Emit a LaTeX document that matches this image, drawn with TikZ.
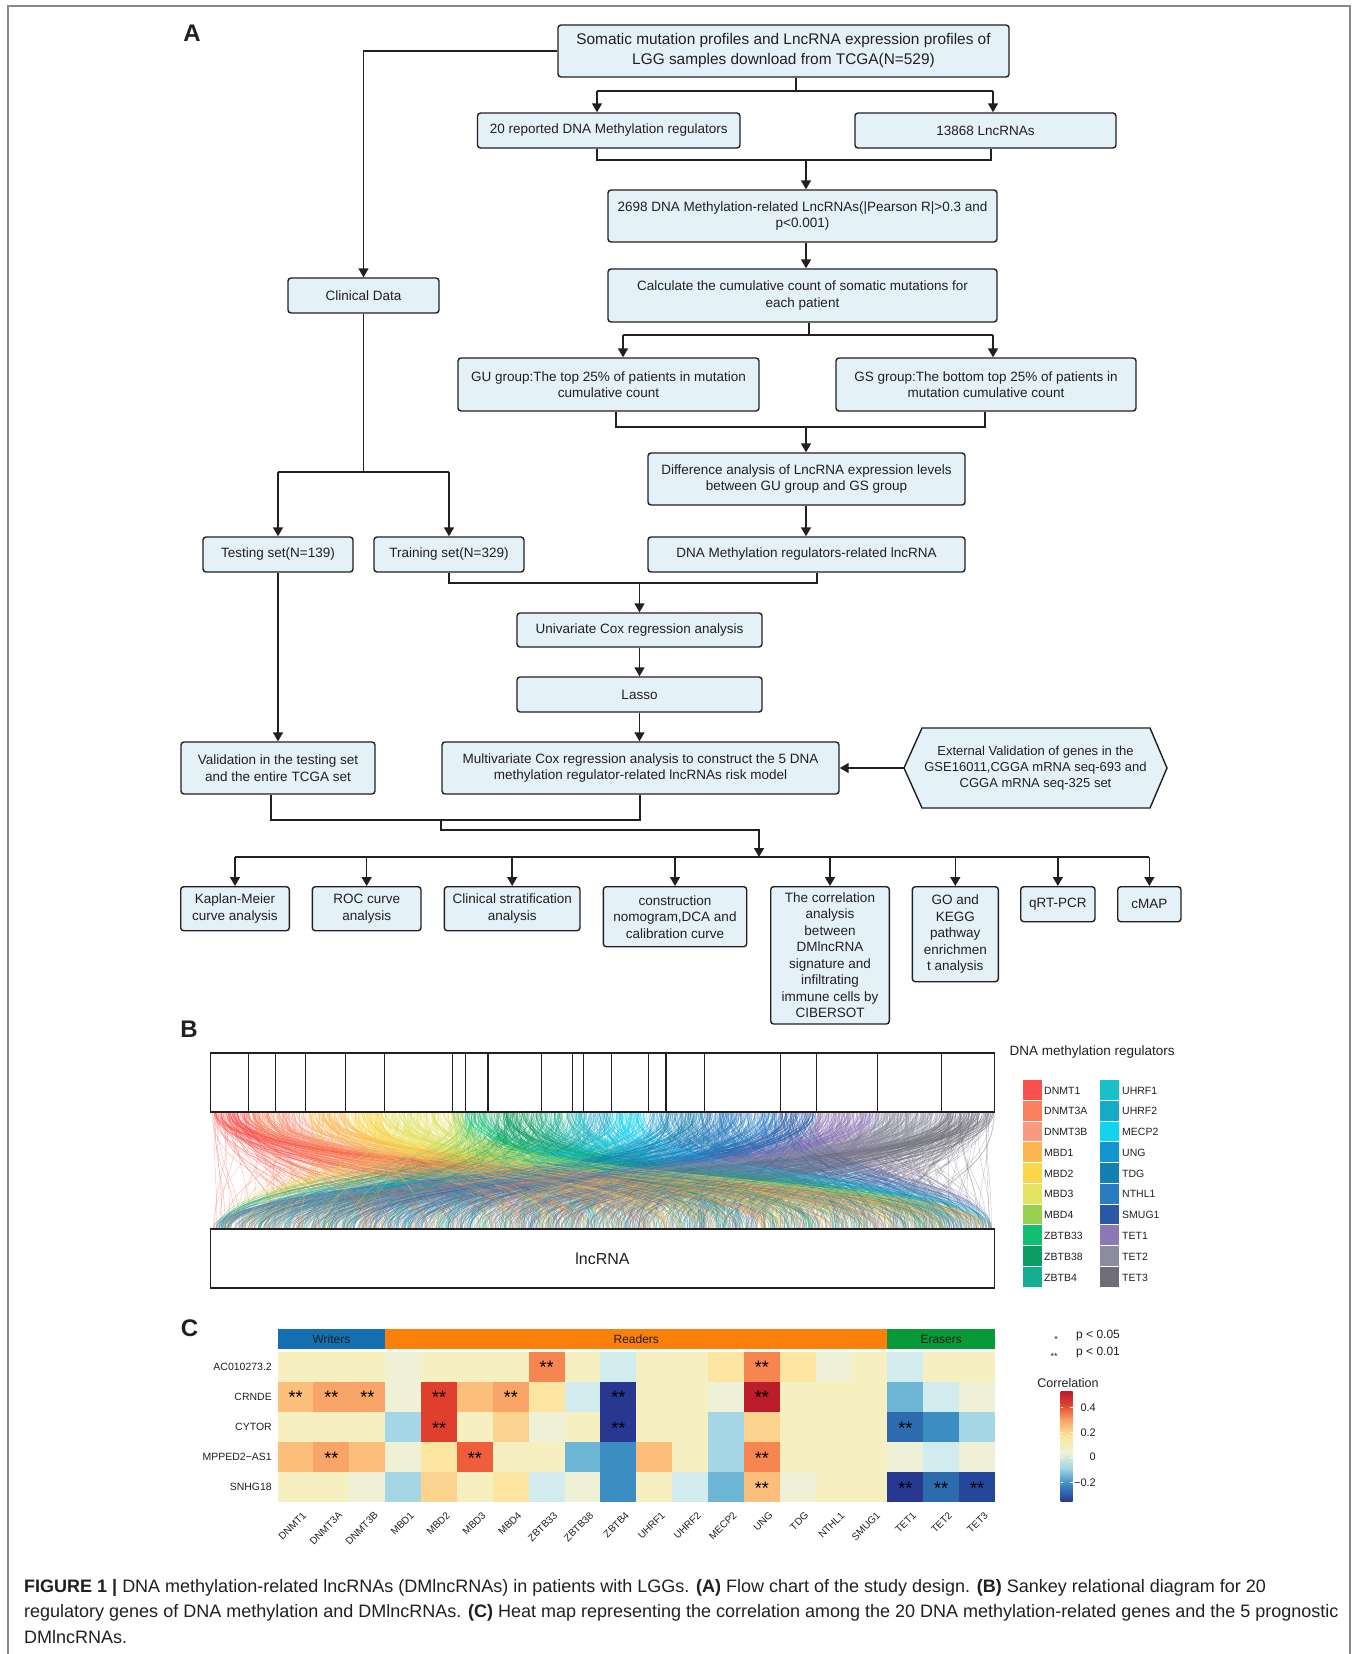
\documentclass[tikz,border=0pt]{standalone}
\usepackage{fontspec}
\setmainfont{Liberation Sans}
\setsansfont{Liberation Sans}
\usetikzlibrary{arrows.meta}
\newcommand{\fsz}[2]{\fontsize{#1}{#2}\selectfont}
\definecolor{boxfill}{HTML}{E4F1F9}
\definecolor{ink}{HTML}{231F20}
\definecolor{framegray}{HTML}{8A8A8A}
% sankey / legend colours
\definecolor{sDNMT1}{HTML}{F9504C}
\definecolor{sDNMT3A}{HTML}{F8805A}
\definecolor{sDNMT3B}{HTML}{F99A80}
\definecolor{sMBD1}{HTML}{FBB850}
\definecolor{sMBD2}{HTML}{F9D748}
\definecolor{sMBD3}{HTML}{E4E462}
\definecolor{sMBD4}{HTML}{98D050}
\definecolor{sZBTB33}{HTML}{10C070}
\definecolor{sZBTB38}{HTML}{0A9E60}
\definecolor{sZBTB4}{HTML}{14AE90}
\definecolor{sUHRF1}{HTML}{18C0C8}
\definecolor{sUHRF2}{HTML}{14AAC8}
\definecolor{sMECP2}{HTML}{12D4F0}
\definecolor{sUNG}{HTML}{1396D0}
\definecolor{sTDG}{HTML}{1280B0}
\definecolor{sNTHL1}{HTML}{2A7CC0}
\definecolor{sSMUG1}{HTML}{2A58A8}
\definecolor{sTET1}{HTML}{8C78B4}
\definecolor{sTET2}{HTML}{8C8C9E}
\definecolor{sTET3}{HTML}{6E6E78}
% heatmap levels
\definecolor{h0}{HTML}{283891}
\definecolor{h1}{HTML}{2C6BAD}
\definecolor{h2}{HTML}{3B8DC2}
\definecolor{h3}{HTML}{6CB5D4}
\definecolor{h4}{HTML}{A5D6E5}
\definecolor{h5}{HTML}{D2EBEE}
\definecolor{h6}{HTML}{EEF1D6}
\definecolor{h7}{HTML}{F6F0C0}
\definecolor{h8}{HTML}{FBE5A0}
\definecolor{h9}{HTML}{FCD38E}
\definecolor{h10}{HTML}{FBBE7B}
\definecolor{h11}{HTML}{F9A468}
\definecolor{h12}{HTML}{F6854F}
\definecolor{h13}{HTML}{EF5E3B}
\definecolor{h14}{HTML}{E13F2D}
\definecolor{h15}{HTML}{BB1D2B}
\definecolor{h16}{HTML}{24479B}
\definecolor{cwrit}{HTML}{1470B0}
\definecolor{cread}{HTML}{FA800A}
\definecolor{ceras}{HTML}{089A38}

\begin{document}
\begin{tikzpicture}[x=1pt,y=-1pt,
  fbox/.style={draw=ink, line width=1.4pt, fill=boxfill, rounded corners=3pt,
    align=center, inner sep=1pt, text=ink, font=\fsz{13.5}{16.5}},
  conn/.style={draw=ink, line width=1.5pt},
  arr/.style={conn, -{Triangle[length=9pt,width=10pt]}},
  plabel/.style={font=\fsz{24}{24}\bfseries, text=ink},
  small/.style={font=\fsz{10.5}{12}, text=ink},
]
\useasboundingbox (0,0) rectangle (1356,1654);
\fill[white] (0,0) rectangle (1356,1654);
\draw[framegray, line width=1.5pt] (8,1654) -- (8,6) -- (1350,6) -- (1350,1654);

% ---------------- Panel A ----------------
\node[plabel] (labA) at (192,33) {A};

\node[fbox, font=\fsz{15.4}{20}, minimum width=451, minimum height=52] (b1) at (783.5,51)
  {Somatic mutation profiles and LncRNA expression profiles of\\LGG samples download from TCGA(N=529)};
\node[fbox, minimum width=262.5, minimum height=35] (b20) at (608.75,130.5) {20 reported DNA Methylation regulators};
\node[fbox, minimum width=261, minimum height=35] (b13) at (985.5,130.5) {13868 LncRNAs};
\node[fbox, minimum width=389, minimum height=52] (b2698) at (802.5,216)
  {2698 DNA Methylation-related LncRNAs(|Pearson R|>0.3 and\\p<0.001)};
\node[fbox, minimum width=389, minimum height=53] (bcalc) at (802.5,295.5)
  {Calculate the cumulative count of somatic mutations for\\each patient};
\node[fbox, minimum width=151, minimum height=35] (bclin) at (363.5,295.5) {Clinical Data};
\node[fbox, minimum width=301, minimum height=53] (bgu) at (608.5,384.5)
  {GU group:The top 25\% of patients in mutation\\cumulative count};
\node[fbox, minimum width=300, minimum height=53] (bgs) at (986,384.5)
  {GS group:The bottom top 25\% of patients in\\mutation cumulative count};
\node[fbox, minimum width=317, minimum height=52] (bdiff) at (806.5,479)
  {Difference analysis of LncRNA expression levels\\between GU group and GS group};
\node[fbox, minimum width=150, minimum height=35] (btest) at (278,554.5) {Testing set(N=139)};
\node[fbox, minimum width=150, minimum height=35] (btrain) at (449,554.5) {Training set(N=329)};
\node[fbox, minimum width=317, minimum height=35] (bdmr) at (806.5,554.5) {DNA Methylation regulators-related lncRNA};
\node[fbox, minimum width=245, minimum height=34] (buni) at (639.5,630) {Univariate Cox regression analysis};
\node[fbox, minimum width=245, minimum height=35] (blasso) at (639.5,694.5) {Lasso};
\node[fbox, minimum width=194, minimum height=52] (bval) at (278,768)
  {Validation in the testing set\\and the entire TCGA set};
\node[fbox, minimum width=397, minimum height=52] (bmulti) at (640.5,768)
  {Multivariate Cox regression analysis to construct the 5 DNA\\methylation regulator-related lncRNAs risk model};
% hexagon
\draw[draw=ink, line width=1.4pt, fill=boxfill, line join=miter]
  (904,768) -- (922,728) -- (1150,728) -- (1167,768) -- (1150,808) -- (922,808) -- cycle;
\node[align=center, text=ink, font=\fsz{13}{16}, minimum width=263, minimum height=80, inner sep=0pt] (hex) at (1035.5,768)
  {External Validation of genes in the\\GSE16011,CGGA mRNA seq-693 and\\CGGA mRNA seq-325 set};

% bottom row
\node[fbox, minimum width=108.6, minimum height=44] (bkm) at (235,908.7) {Kaplan-Meier\\curve analysis};
\node[fbox, minimum width=108.7, minimum height=44] (broc) at (366.65,908.7) {ROC curve\\analysis};
\node[fbox, minimum width=135.7, minimum height=44] (bcs) at (512.15,908.7) {Clinical stratification\\analysis};
\node[fbox, minimum width=143.4, minimum height=60] (bcon) at (675,916.7) {construction\\nomogram,DCA and\\calibration curve};
\node[fbox, minimum width=118.6, minimum height=137.3] (bcor) at (830,955.35)
  {The correlation\\analysis\\between\\DMlncRNA\\signature and\\infiltrating\\immune cells by\\CIBERSOT};
\node[fbox, minimum width=86, minimum height=95] (bgo) at (955.3,934.2) {GO and\\KEGG\\pathway\\enrichmen\\t analysis};
\node[fbox, minimum width=74.3, minimum height=35] (bqrt) at (1057.85,904.2) {qRT-PCR};
\node[fbox, minimum width=63.3, minimum height=35] (bcmap) at (1149.35,904.2) {cMAP};

% junction coordinates
\coordinate (f1) at (796,91);   \coordinate (f1L) at (597,91);  \coordinate (f1R) at (993,91);
\coordinate (m1) at (806,160);  \coordinate (m1L) at (597,160); \coordinate (m1R) at (991,160);
\coordinate (f2) at (809,335);  \coordinate (f2L) at (623,335); \coordinate (f2R) at (993,335);
\coordinate (m2) at (806,427);  \coordinate (m2L) at (616,427); \coordinate (m2R) at (985,427);
\coordinate (f3) at (363.5,472); \coordinate (f3L) at (278,472); \coordinate (f3R) at (449,472);
\coordinate (m3) at (639.5,583); \coordinate (m3L) at (449,583); \coordinate (m3R) at (817,583);
\coordinate (m4) at (441,820);  \coordinate (m4L) at (271,820); \coordinate (m4R) at (640,820);
\coordinate (k1) at (441,830);  \coordinate (k2) at (759,830);  \coordinate (d0) at (759,857);

% connectors
\draw[arr] (b1.west) -| (bclin.north);
\draw[conn] (b1.south -| f1) -- (f1);
\draw[conn] (f1L) -- (f1R);
\draw[arr] (f1L) -- (b20.north -| f1L);
\draw[arr] (f1R) -- (b13.north -| f1R);
\draw[conn] (b20.south -| m1L) -- (m1L) -- (m1R) -- (b13.south -| m1R);
\draw[arr] (m1) -- (b2698.north -| m1);
\draw[arr] (b2698.south -| m1) -- (bcalc.north -| m1);
\draw[conn] (bcalc.south -| f2) -- (f2);
\draw[conn] (f2L) -- (f2R);
\draw[arr] (f2L) -- (bgu.north -| f2L);
\draw[arr] (f2R) -- (bgs.north -| f2R);
\draw[conn] (bgu.south -| m2L) -- (m2L) -- (m2R) -- (bgs.south -| m2R);
\draw[arr] (m2) -- (bdiff.north -| m2);
\draw[arr] (bdiff.south -| m2) -- (bdmr.north -| m2);
\draw[conn] (bclin.south) -- (f3);
\draw[conn] (f3L) -- (f3R);
\draw[arr] (f3L) -- (btest.north);
\draw[arr] (f3R) -- (btrain.north);
\draw[conn] (btrain.south -| m3L) -- (m3L) -- (m3R) -- (bdmr.south -| m3R);
\draw[arr] (m3) -- (buni.north);
\draw[arr] (buni.south) -- (blasso.north);
\draw[arr] (blasso.south) -- (bmulti.north -| blasso.south);
\draw[arr] (btest.south) -- (bval.north);
\draw[arr] (hex.west) -- (bmulti.east);
\draw[conn] (bval.south -| m4L) -- (m4L) -- (m4R) -- (bmulti.south -| m4R);
\draw[arr] (m4) -- (k1) -- (k2) -- (d0);
\draw[conn] (bkm.north |- d0) -- (bcmap.north |- d0);
\foreach \nd in {bkm,broc,bcs,bcon,bcor,bgo,bqrt,bcmap}
  \draw[arr] (\nd.north |- d0) -- (\nd.north);

% ---------------- Panel B ----------------
\node[plabel] (labB) at (189,1029) {B};
\pgfmathsetseed{7}
\foreach \rd in {1,...,42} {
\foreach \l/\r/\c in {210.6/248.2/DNMT1, 248.2/275.7/DNMT3A, 275.7/305.6/DNMT3B, 305.6/345.8/MBD1,
  345.8/384.7/MBD2, 384.7/452.3/MBD3, 452.3/465.1/MBD4, 465.1/488.0/ZBTB33, 488.0/541.6/ZBTB38,
  541.6/572.9/ZBTB4, 572.9/583.1/UHRF1, 583.1/611.1/UHRF2, 611.1/648.1/MECP2, 648.1/666.0/UNG,
  666.0/704.9/TDG, 704.9/780.1/NTHL1, 780.1/816.5/SMUG1, 816.5/877.7/TET1, 877.7/941.5/TET2,
  941.5/994.4/TET3} {
  \pgfmathtruncatemacro{\nn}{max(1,round(0.075*(\r-\l)))}
  \foreach \k in {1,...,\nn} {
    \pgfmathsetmacro{\xa}{\l+rnd*(\r-\l)}
    \pgfmathsetmacro{\xb}{213+rnd*779}
    \draw[s\c, line width=0.3pt, opacity=0.5] (\xa,1112) .. controls (\xa,1180) and (\xb,1172) .. (\xb,1229);
  }
}}
\draw[ink, line width=1.4pt] (210.6,1053) rectangle (994.4,1112);
\foreach \xd in {248.2,275.7,305.6,345.8,384.7,452.3,465.1,488.0,541.6,572.9,583.1,611.1,648.1,666.0,704.9,780.1,816.5,877.7,941.5}
  \draw[ink, line width=1.1pt] (\xd,1053) -- (\xd,1112);
\draw[ink, line width=1.4pt, fill=white] (210.6,1229) rectangle (994.4,1288);
\node[font=\fsz{16}{16}, text=ink] (lnc) at (602.5,1259) {lncRNA};

\node[anchor=west, font=\fsz{13.5}{15}, text=ink] (legBt) at (1006,1052) {DNA methylation regulators};
\foreach \nm [count=\i from 0] in {DNMT1,DNMT3A,DNMT3B,MBD1,MBD2,MBD3,MBD4,ZBTB33,ZBTB38,ZBTB4} {
  \fill[s\nm] (1023,{1080+20.77*\i}) rectangle ++(18.5,19.8);
  \node[small, anchor=west, inner sep=0pt] at (1044,{1080+20.77*\i+10.5}) {\nm};
}
\foreach \nm [count=\i from 0] in {UHRF1,UHRF2,MECP2,UNG,TDG,NTHL1,SMUG1,TET1,TET2,TET3} {
  \fill[s\nm] (1100,{1080+20.77*\i}) rectangle ++(18.5,19.8);
  \node[small, anchor=west, inner sep=0pt] at (1122,{1080+20.77*\i+10.5}) {\nm};
}

% ---------------- Panel C ----------------
\node[plabel] (labC) at (189.5,1328.5) {C};
\fill[cwrit] (277.6,1329) rectangle (385.2,1348.7);
\fill[cread] (385.2,1329) rectangle (887.4,1348.7);
\fill[ceras] (887.4,1329) rectangle (995,1348.7);
\node[font=\fsz{12}{12}, text=ink] at (331.4,1339) {Writers};
\node[font=\fsz{12}{12}, text=ink] at (636.3,1339) {Readers};
\node[font=\fsz{12}{12}, text=ink] at (941.2,1339) {Erasers};

\foreach \rw [count=\r from 0] in {
  {7,7,7,6,7,7,7,12,7,5,7,7,8,12,8,6,7,5,7,7},
  {10,11,11,6,14,10,11,8,5,0,7,7,6,15,7,7,7,3,5,6},
  {7,7,7,4,14,7,9,6,7,0,7,7,4,9,7,7,7,1,2,4},
  {10,11,10,6,8,13,7,7,3,2,10,7,4,12,7,7,7,6,5,6},
  {7,7,6,4,9,7,8,5,6,2,7,5,3,10,6,7,7,0,1,16}} {
  \foreach \v [count=\c from 0] in \rw {
    \fill[h\v] ({277.6+35.87*\c},{1351.7+30.06*\r}) rectangle ++(36.2,30.4);
  }
}
\foreach \c/\r in {7/0,13/0,0/1,1/1,2/1,4/1,6/1,9/1,13/1,4/2,9/2,17/2,1/3,5/3,13/3,13/4,17/4,18/4,19/4}
  \node[font=\fsz{18}{18}, text=black, inner sep=0pt] at ({277.6+35.87*(\c+0.5)},{1351.7+30.06*(\r+0.5)+1}) {**};
\foreach \nm [count=\r from 0] in {AC010273.2,CRNDE,CYTOR,MPPED2−AS1,SNHG18}
  \node[small, anchor=east, inner sep=0pt] at (272,{1351.7+30.06*(\r+0.5)}) {\nm};
\foreach \nm [count=\c from 0] in {DNMT1,DNMT3A,DNMT3B,MBD1,MBD2,MBD3,MBD4,ZBTB33,ZBTB38,ZBTB4,UHRF1,UHRF2,MECP2,UNG,TDG,NTHL1,SMUG1,TET1,TET2,TET3}
  \node[font=\fsz{10}{11}, text=ink, rotate=45, anchor=north east, inner sep=0pt] at ({277.6+35.87*(\c+0.5)+6.5},1511) {\nm};

% legend C
\node[font=\fsz{9}{9}, text=ink, inner sep=0pt] at (1056,1339) {*};
\node[font=\fsz{12}{12}, text=ink, anchor=west, inner sep=0pt] at (1076,1336) {p < 0.05};
\node[font=\fsz{9}{9}, text=ink, inner sep=0pt] at (1054,1356) {**};
\node[font=\fsz{12}{12}, text=ink, anchor=west, inner sep=0pt] at (1076,1353) {p < 0.01};
\node[font=\fsz{12.5}{13}, text=ink] at (1068,1382.7) {Correlation};
\shade[top color=h15, bottom color=h14] (1060.7,1391.7) rectangle (1072.7,1404);
\shade[top color=h14, bottom color=h11] (1060.7,1404) rectangle (1072.7,1420);
\shade[top color=h11, bottom color=h8] (1060.7,1420) rectangle (1072.7,1436);
\shade[top color=h8, bottom color=h6] (1060.7,1436) rectangle (1072.7,1452);
\shade[top color=h6, bottom color=h4] (1060.7,1452) rectangle (1072.7,1468);
\shade[top color=h4, bottom color=h2] (1060.7,1468) rectangle (1072.7,1484);
\shade[top color=h2, bottom color=h0] (1060.7,1484) rectangle (1072.7,1501.7);
\foreach \yy/\tx in {1407.7/0.4,1432.7/0.2,1457/0,1482.7/−0.2} {
  \draw[white, line width=0.6pt] (1060.7,\yy) -- ++(2.5,0);
  \draw[white, line width=0.6pt] (1072.7,\yy) -- ++(-2.5,0);
  \node[font=\fsz{11}{11}, text=ink, anchor=east, inner sep=0pt] at (1096,\yy) {\tx};
}

% ---------------- Caption ----------------
\node[anchor=base west, inner sep=0pt, font=\fsz{18}{20}, text=ink] (cap1) at (24,1592)
  {\textbf{FIGURE 1 |} DNA methylation-related lncRNAs (DMlncRNAs) in patients with LGGs. \textbf{(A)} Flow chart of the study design. \textbf{(B)} Sankey relational diagram for 20};
\node[anchor=base west, inner sep=0pt, font=\fsz{18}{20}, text=ink] (cap2) at (24,1617.5)
  {regulatory genes of DNA methylation and DMlncRNAs. \textbf{(C)} Heat map representing the correlation among the 20 DNA methylation-related genes and the 5 prognostic};
\node[anchor=base west, inner sep=0pt, font=\fsz{18}{20}, text=ink] (cap3) at (24,1643)
  {DMlncRNAs.};
\end{tikzpicture}
\end{document}
